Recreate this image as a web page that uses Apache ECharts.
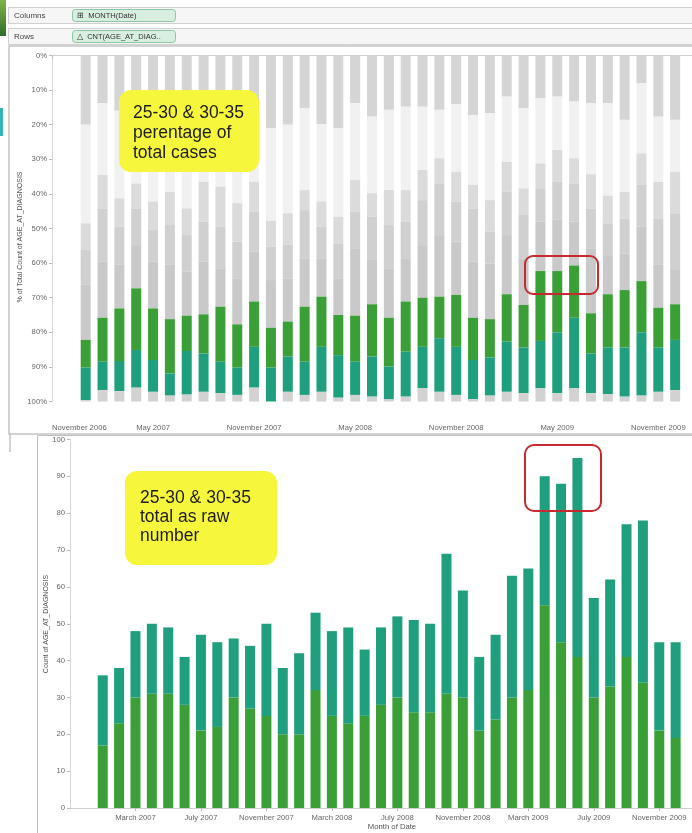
<!DOCTYPE html>
<html><head><meta charset="utf-8">
<script src="https://cdn.jsdelivr.net/npm/echarts@6/dist/echarts.min.js"></script>
<style>html,body{margin:0;padding:0;background:#fff}#c{width:692px;height:833px}</style>
</head><body><div id="c"></div>
<script>
// Month categories (continuous month axis, Nov 2006 .. Jan 2010)
const months = ['November 2006','December 2006',
 'January 2007','February 2007','March 2007','April 2007','May 2007','June 2007','July 2007','August 2007','September 2007','October 2007','November 2007','December 2007',
 'January 2008','February 2008','March 2008','April 2008','May 2008','June 2008','July 2008','August 2008','September 2008','October 2008','November 2008','December 2008',
 'January 2009','February 2009','March 2009','April 2009','May 2009','June 2009','July 2009','August 2009','September 2009','October 2009','November 2009','December 2009',
 'January 2010'];

// TOP chart: cumulative % boundaries (0% at top), Jan 2007 .. Dec 2009
const topGrayEnd   = [20,13.8,16,17,18,16,18,17,16,18,15,21,20,15.3,19.8,21,13.8,17.7,15.7,14.8,14.8,15.7,14.1,17.2,16.7,11.9,15.3,12.4,11.9,13.3,13.8,13.8,18.6,8,17.7,18.6];
const lightBandEnd = [48.5,34.5,41.3,37,42.2,39.4,44.2,36.5,37.9,42.7,36.5,47.8,45.6,38.9,42.2,46.6,36,39.8,38.9,38.9,33.1,29.7,33.6,37.4,41.8,30.7,38.4,31.2,27.3,29.7,34.3,40.5,39.4,28.3,36.5,33.6];
const band1End     = [56.2,44.2,49.5,44.2,50.4,49,51.9,48,49.5,53.8,45.1,55.3,54.6,44.7,49.5,54.3,45.1,46.6,49,48,41.8,37,42.2,44.2,50.9,39.4,46.1,38.4,36.5,37,44.2,48.5,47.1,37.4,47.1,45.6];
const band2End     = [66.3,59.6,60.5,54.8,59.6,60.5,62.5,59.6,61.5,64.4,56.7,64.9,64.4,58.6,58.6,64.4,55.7,59.1,61.5,58.6,54.8,51.9,53.8,59.6,60.1,51.9,58.6,48,47.5,48,55.7,57.7,57.2,49.5,60.5,62];
const age2530Start = [82.2,75.8,73.1,67.3,73.1,76.2,75.2,74.8,72.6,77.7,71.1,78.7,76.9,72.6,69.7,75,75.2,71.9,75.8,71.1,70,69.7,69.2,75.8,76.2,69,72.1,62.3,62.3,60.7,74.5,69,67.8,65.2,72.9,71.9];
const age3035Start = [90.2,88.5,88.3,85.1,88,91.9,85.4,86.1,88.5,90.2,84.2,90.2,87,88.5,84.2,86.6,88.5,87,89.9,85.6,84.2,81.7,84.2,88,87.3,82.7,84.4,82.5,80,75.8,86.1,84.4,84.4,80,84.4,82.2];
const age3035End   = [99.6,96.7,97,96,97.2,98.3,98,97.2,97.6,98.1,96,100,97.2,98.1,97.2,98.9,98.1,98.6,99.4,98.6,96.2,97.2,98.1,99.3,98.3,97.2,97.6,96.2,97.6,96.2,97.6,97.9,98.6,98.3,97.2,96.7];

// BOTTOM chart: raw counts, Jan 2007 .. Dec 2009
const count2530 = [17,23,30,31,31,28,21,22,30,27,25,20,20,32,25,23,25,28,30,26,26,31,30,21,24,30,32,55,45,41,30,33,41,34,21,19];
const count3035 = [19,15,18,19,18,13,26,23,16,17,25,18,22,21,23,26,18,21,22,25,24,38,29,20,23,33,33,35,43,54,27,29,36,44,24,26];

const pad = arr => [null, null, ...arr, null];
const diff = (a, b) => a.map((v, i) => +(v - (b ? b[i] : 0)).toFixed(2));
const hundred = topGrayEnd.map(() => 100);

const FONT = 'Liberation Sans, Arial, sans-serif';
const GREEN = '#3a9f37', TEAL = '#1f9f7d';

const topSegs = [
  ['top', '#d5d5d5', diff(topGrayEnd)],
  ['light', '#f1f1f1', diff(lightBandEnd, topGrayEnd)],
  ['b1', '#dbdbdb', diff(band1End, lightBandEnd)],
  ['b2', '#d0d0d0', diff(band2End, band1End)],
  ['b3', '#c9c9c9', diff(age2530Start, band2End)],
  ['25-30', GREEN, diff(age3035Start, age2530Start)],
  ['30-35', TEAL, diff(age3035End, age3035Start)],
  ['35+', '#d2d2d2', diff(hundred, age3035End)]
];

const series = topSegs.map(s => ({
  type: 'bar', name: s[0], stack: 'pct', xAxisIndex: 0, yAxisIndex: 0,
  barWidth: 10, itemStyle: { color: s[1] }, data: pad(s[2])
}));
series.push({ type: 'bar', name: '25-30', stack: 'cnt', xAxisIndex: 1, yAxisIndex: 1, barWidth: 10, itemStyle: { color: GREEN }, data: pad(count2530) });
series.push({ type: 'bar', name: '30-35', stack: 'cnt', xAxisIndex: 1, yAxisIndex: 1, barWidth: 10, itemStyle: { color: TEAL }, data: pad(count3035) });

const axisLbl = { color: '#666', fontSize: 7.7, fontFamily: FONT };

const gtext = (x, y, text, size, color) => ({
  type: 'text', x: x, y: y, z: 100,
  style: { text: text, fontSize: size, fontFamily: FONT, fill: color,
    align: 'left', verticalAlign: 'middle', textAlign: 'left', textVerticalAlign: 'middle' }
});
const grect = (x, y, w, h, r, fill, stroke, lw) => ({
  type: 'rect', z: 100, shape: { x: x, y: y, width: w, height: h, r: r },
  style: { fill: fill, stroke: stroke, lineWidth: lw || 1 }
});
const vtext = (x, y, text) => ({
  type: 'text', z: 100, x: x, y: y, rotation: Math.PI / 2,
  style: { text: text, fontSize: 7, fontFamily: FONT, fill: '#555', align: 'center', verticalAlign: 'middle', textAlign: 'center', textVerticalAlign: 'middle' }
});

const graphics = [
  // left edge bits of the screenshot
  { type: 'rect', z: 100, shape: { x: 0, y: 0, width: 6, height: 36 },
    style: { fill: new echarts.graphic.LinearGradient(0, 0, 0, 1, [{ offset: 0, color: '#7fb44a' }, { offset: 1, color: '#2f6e2c' }]) } },
  grect(0, 108, 3, 28, 0, '#33b4b6', null, 0),
  { type: 'line', z: 100, shape: { x1: 10, y1: 434, x2: 10, y2: 452 }, style: { stroke: '#c4c4c4', lineWidth: 1.5 } },
  // shelves
  grect(8.5, 7.5, 690, 16, 0, '#f6f6f6', '#d0d0d0', 1),
  grect(8.5, 28.5, 690, 16, 0, '#f6f6f6', '#d0d0d0', 1),
  gtext(14, 15.5, 'Columns', 8, '#444'),
  gtext(14, 36.5, 'Rows', 8, '#444'),
  grect(72.5, 9.5, 103, 12, 3, '#d8eedf', '#8cc5a5', 1),
  grect(72.5, 30.5, 103, 12, 3, '#d8eedf', '#8cc5a5', 1),
  gtext(77, 15.5, '\u229E  MONTH(Date)', 7.5, '#333'),
  gtext(77, 36.5, '\u25B3  CNT(AGE_AT_DIAG..', 7.5, '#333'),
  // panes
  { type: 'rect', z: 100, shape: { x: 9, y: 46, width: 690, height: 388 }, style: { fill: 'none', stroke: '#c4c4c4', lineWidth: 1.5 } },
  { type: 'rect', z: 100, shape: { x: 37.5, y: 435.5, width: 660, height: 405 }, style: { fill: 'none', stroke: '#bdbdbd', lineWidth: 1 } },
  // axis titles
  vtext(20, 237, '% of Total Count of AGE_AT_DIAGNOSIS'),
  vtext(46, 624, 'Count of AGE_AT_DIAGNOSIS'),
  { type: 'text', z: 100, x: 392, y: 827,
    style: { text: 'Month of Date', fontSize: 7.7, fontFamily: FONT, fill: '#555', align: 'center', verticalAlign: 'middle', textAlign: 'center', textVerticalAlign: 'middle' } },
  // yellow notes
  grect(119, 90, 140, 82, 12, '#f6f63c', null, 0),
  { type: 'text', z: 101, x: 133, y: 103,
    style: { text: '25-30 & 30-35\nperentage of\ntotal cases', fontSize: 17.5, lineHeight: 20, fontFamily: FONT, fill: '#1e1e1e', align: 'left', verticalAlign: 'top', textAlign: 'left', textVerticalAlign: 'top' } },
  grect(125, 471, 152, 94, 12, '#f6f63c', null, 0),
  { type: 'text', z: 101, x: 140, y: 488.5,
    style: { text: '25-30 & 30-35\ntotal as raw\nnumber', fontSize: 17.5, lineHeight: 19, fontFamily: FONT, fill: '#1e1e1e', align: 'left', verticalAlign: 'top', textAlign: 'left', textVerticalAlign: 'top' } },
  // red highlight boxes
  grect(525, 256, 73, 38, 8, 'none', '#c62a2e', 2),
  grect(525, 445, 76, 66, 9, 'none', '#c62a2e', 2)
];

const chart = echarts.init(document.getElementById('c'), null, { renderer: 'canvas' });
chart.setOption({
  animation: false,
  backgroundColor: '#fff',
  grid: [
    { left: 52, top: 55.5, width: 647.1, height: 346 },
    { left: 70, top: 439.5, width: 626.6, height: 368.5 }
  ],
  xAxis: [
    { gridIndex: 0, type: 'category', data: months, boundaryGap: false, offset: 16.5,
      axisLine: { lineStyle: { color: '#cfcfcf' } },
      axisTick: { length: 3, interval: (i) => i % 6 === 0, lineStyle: { color: '#bbb' } },
      axisLabel: Object.assign({ interval: (i) => i % 6 === 0 && i <= 36, margin: 6, alignMinLabel: 'left' }, axisLbl),
      splitLine: { show: false } },
    { gridIndex: 1, type: 'category', data: months, boundaryGap: false,
      axisLine: { lineStyle: { color: '#cfcfcf' } },
      axisTick: { length: 3, interval: (i) => i % 4 === 0 && i > 0, lineStyle: { color: '#bbb' } },
      axisLabel: Object.assign({ interval: (i) => i % 4 === 0 && i > 0 && i <= 36, margin: 6 }, axisLbl),
      splitLine: { show: false } }
  ],
  yAxis: [
    { gridIndex: 0, type: 'value', inverse: true, min: 0, max: 100, interval: 10,
      axisLine: { show: true, lineStyle: { color: '#d6d6d6' } },
      axisTick: { show: true, length: 3, lineStyle: { color: '#bbb' } },
      axisLabel: Object.assign({ formatter: v => v + '%', margin: 5 }, axisLbl),
      splitLine: { show: false } },
    { gridIndex: 1, type: 'value', min: 0, max: 100, interval: 10,
      axisLine: { show: true, lineStyle: { color: '#d6d6d6' } },
      axisTick: { show: true, length: 3, lineStyle: { color: '#bbb' } },
      axisLabel: Object.assign({ margin: 5 }, axisLbl),
      splitLine: { show: false } }
  ],
  series: series,
  graphic: { elements: graphics }
});
</script>
</body></html>
